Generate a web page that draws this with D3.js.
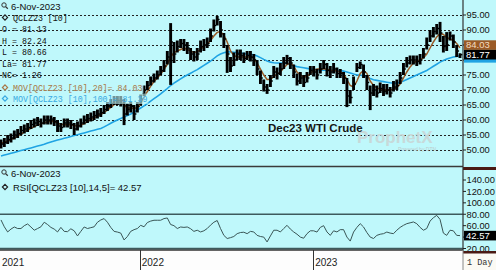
<!DOCTYPE html>
<html><head><meta charset="utf-8">
<script src="https://cdn.jsdelivr.net/npm/d3@7"></script>
<style>body{margin:0;background:#fff}svg{display:block}</style>
</head><body><svg id="c" width="496" height="270"></svg>
<script>
// ---------- DATA (weekly) ----------
const startDate = "2021-03-15";
const endDate = "2023-11-06";
const closes = [
52,52.5,53.5,54,55,55.5,56.5,57,57.5,58.5,
59,59.5,59,60,60,60.3,59.5,58,57.5,59,
59,58.5,57,58,59,60,60.5,61,61.5,62,
62.5,63.5,64.5,65.5,66.5,66.5,66.5,62,63.5,64.5,
62,64.5,67,70,71.5,73,74,75,76.5,78,
81,86,82,84.5,85.5,85,84,82,81,82,
84.5,85,85.5,88,91.5,93.5,90,87,82,78,
80,82,81.5,80.5,81.5,81,80,77,74,71,
70,73,76,75.5,77,79,80.5,79,76,73,
74,72.5,74,76.5,76,75,77,78.5,76.5,76,
77,75.5,75.5,74,68,67.5,72,77.5,78.5,76,
72.5,69,70,69,70.5,69.5,70,69,71,71.5,
74,77,79,80,80,79.5,80,82,85,88,
89.5,90.5,89,84.5,85,88,86,83,81.77];
const highs = [
53.5,54,55,55.5,56.5,57,58,58.5,59,60,
60.5,61,60.5,61.5,61.5,61.5,61,60,59,60.5,
60.5,60,59,59.5,60.5,61.5,62,62.5,63,63.5,
64,65,66,67,68,68,68,67,65.5,66,
65,66,68.5,71.5,73,74.5,75.5,76.5,78,80,
83,92.3,86,86.5,87,87,86,84,83,84,
86.5,87,87.5,90.5,93.5,94.7,93,89,85,81,
82.5,83.5,83.5,82.5,83,83,82,80,76.5,73.5,
72,75,78,77.5,79,81,81.7,81,78.5,75.5,
76,75,76,78,78,77,79,80,79,78,
79,77.5,77,76,74,70,74.5,79,79.5,78.5,
75,71.5,72,71.5,72.5,72,72,71,73,73.5,
76,79,81,81.5,81.5,81.5,82,84,87.5,90,
91,92,92.7,88,89.3,89.5,88.5,85,82.24];
const lows = [
50.5,51,52,52.5,53.5,54,55,55.5,56,57,
57.5,58,57.5,58.5,58.5,58.5,58,56,56,57.5,
57.5,57,55,56.5,57.5,58.5,59,59.5,60,60.5,
61,62,63,64,65,65,64.5,58.3,61.5,62.5,
60,62.5,65,68,70,71.5,72.5,73.5,75,76,
78.5,71.7,79,82.5,84,83,82,80,79.5,80,
82.5,83,84,86,89.5,91.5,87.5,84,75.7,76,
78,80,80,79,80,79.5,78,75,72,69.5,
68.7,71,74,73.5,75,77,78.5,77,74,71.5,
72,71,72.5,75,74.5,73.5,75.5,77,74.5,74,
75.5,74,74,72,64.3,65.5,70,76,77,74,
70,63.3,68,67.5,69,68,68.5,67.5,69.5,70,
72,75,77.5,78.5,78.5,78,78.5,80.5,83.5,86,
87.5,88.5,86,82.5,83,86.5,84,81,80.66];
const ma20 = [
52.3,52.6,53,53.5,54,54.6,55.3,56,56.6,57.2,
57.8,58.3,58.7,59,59.4,59.6,59.5,59,58.6,58.4,
58.4,58.4,58.2,58,58.3,58.8,59.5,60.1,60.7,61.3,
61.8,62.5,63.3,64.2,65.1,65.8,66,65,64,64,
63.8,64.2,65.5,67.5,69.5,71.3,72.8,74,75.3,76.8,
78.5,81,82.5,83,83.5,84,83.5,83,82.5,82.7,
83.5,84.5,85.3,86.5,88,89.2,89.5,88.3,86,83,
81.5,81,81,81,81,81,80.7,79,77,75,
73.5,73.5,74.5,75.3,76,77.3,78.5,79,78,76,
75,74.3,74.5,75.5,76.5,77,77,77,77,76.5,
76.5,76.3,76,75.5,73.5,71.5,71,73,75.5,76.5,
75.5,73,71.5,70.7,70.3,70.2,70,70,70.2,70.8,
72,74,76,77.7,79,79.7,80,80.7,82,84,
86,87.7,88.8,88.5,87.5,87,86.5,85.5,84.03];
const ma100 = [
48,48.3,48.6,48.9,49.2,49.5,49.8,50.1,50.4,50.7,
51,51.3,51.6,51.9,52.3,52.7,53,53.3,53.6,53.9,
54.2,54.5,54.8,55.1,55.4,55.7,56,56.3,56.6,56.9,
57.2,57.7,58.3,58.9,59.5,60,60.5,61,61.5,62,
62.6,63.3,64,64.7,65.5,66.3,67.1,67.9,68.7,69.6,
70.5,71.5,72.3,73,73.7,74.4,75,75.6,76.2,76.8,
77.5,78.2,78.9,79.6,80.5,81.4,82,82.4,82.7,82.7,
82.6,82.5,82.3,82.2,82,81.9,81.7,81.3,80.8,80.2,
79.7,79.3,79.1,79,79,79,78.9,78.5,78.1,77.8,
77.6,77.4,77.2,77,76.9,76.8,76.7,76.6,76.6,76.6,
76.5,76.5,76.5,76.3,76,75.7,75.3,75,75,74.7,
74.3,73.8,73.4,73.2,73,72.8,72.6,72.4,72.3,72.3,
72.6,73,73.5,74,74.5,75,75.5,76,76.5,77.2,
77.9,78.6,79.3,79.8,80.3,80.7,81,81.2,81.39];
const rsi = [
70,58,49,54,57.7,55,55,60,63,57.7,
52,55,58,66,62,57,54,49,57,50,
49.5,54.5,51,42,50,57.7,55,56.5,58,66,
70,72.4,66,57,50,48.8,47,35,41,50,
53,55,60.6,58,65.5,68,69.5,69.5,69.5,72.4,
73.5,62,60,55,57.7,57,57.7,54.7,50,52,
49,51,55,61,66,69,55,43,37.5,39,
41,46,48,48.5,46,50,49,43,41,40,
31.5,42,52,52,49,55,60.6,54,49,45,
40,38,46,51,51,48.8,57,60,49,43,
51,49,53,53,40,33,48.8,57,63.5,57.7,
48,40,37.5,43,45,46,48.8,47,46,52,
57,60.6,63.5,65,66.5,63.5,57,52,55,68,
74,78,71,47,43,52,51,43,42.57];
const priceTicks = [50,55,60,65,70,75,80,85,90,95];
const rsiTicks = [20,40,60,80,100,120,140];
const rsiLevels = [20,80];
const yearLabels = ["2021","2022","2023"];
const yearStarts = ["2021-01-01","2022-01-01","2023-01-01"];
const legendMain = ["QCLZ23 [10]","O = 81.13","H = 82.24","L = 80.66","La= 81.77","NC= 1.26"];
const legendMA = ["MOV[QCLZ23 [10],20]= 84.03","MOV[QCLZ23 [10],100]= 81.39"];
const lastValues = {ma20:84.03, ma100:81.39, last:81.77, rsi:42.57};
const dateLabel = "6-Nov-2023";
const chartTitle = "Dec23 WTI Crude";

// ---------- LAYOUT ----------
const BG = "#bff8fb";
const svg = d3.select("#c");
const parse = d3.timeParse("%Y-%m-%d");
const dates = closes.map((_, i) => d3.timeDay.offset(parse(startDate), 7 * i));
const x = d3.scaleTime().domain([parse(startDate), parse(endDate)]).range([1, 460]);
const y = d3.scaleLinear().domain([50, 95]).range([150, 15]);
const yr = d3.scaleLinear().domain([20, 140]).range([248.5, 180]);
const AX = 463;
const mono = "'Liberation Mono', 'Courier New', monospace";
const sans = "Arial, 'Liberation Sans', sans-serif";

svg.append("rect").attr("width", 496).attr("height", 270).attr("fill", BG);

// main gridlines
svg.append("g").selectAll("line").data(priceTicks).join("line")
  .attr("x1", 0).attr("x2", AX).attr("y1", d => Math.round(y(d)) + 0.5).attr("y2", d => Math.round(y(d)) + 0.5)
  .attr("stroke", "#222").attr("stroke-width", 1).attr("stroke-dasharray", "2,2");

// watermark + title
svg.append("text").attr("x", 357).attr("y", 143).attr("font-family", sans)
  .attr("font-size", 17).attr("font-weight", "bold").attr("fill", "#c9d6d6").attr("opacity", 0.9).text("ProphetX");
svg.append("text").attr("x", 398).attr("y", 151).attr("font-family", sans)
  .attr("font-size", 5).attr("fill", "#bccccc").text("Powered by DTN");
svg.append("text").attr("x", 268).attr("y", 132).attr("font-family", sans)
  .attr("font-size", 11.5).attr("font-weight", "bold").attr("fill", "#151515").text(chartTitle);

// moving averages
const line = (arr, ys) => d3.line().x((d, i) => x(dates[i])).y(d => ys(d))(arr);
svg.append("path").attr("d", line(ma100, y)).attr("fill", "none").attr("stroke", "#1fa3e3").attr("stroke-width", 1.6);
svg.append("path").attr("d", line(ma20, y)).attr("fill", "none").attr("stroke", "#9a5a26").attr("stroke-width", 1.5);

// price bars
const bars = svg.append("g");
bars.selectAll("line.hl").data(closes).join("line").attr("class", "hl")
  .attr("x1", (d, i) => x(dates[i])).attr("x2", (d, i) => x(dates[i]))
  .attr("y1", (d, i) => y(highs[i])).attr("y2", (d, i) => y(lows[i]))
  .attr("stroke", "#000").attr("stroke-width", 2.9);
bars.selectAll("line.c").data(closes).join("line").attr("class", "c")
  .attr("x1", (d, i) => x(dates[i])).attr("x2", (d, i) => x(dates[i]) + 2.4)
  .attr("y1", d => y(d)).attr("y2", d => y(d))
  .attr("stroke", "#000").attr("stroke-width", 1.4);

// legend (main)
function magnifier(g, cx, cy) {
  g.append("circle").attr("cx", cx).attr("cy", cy).attr("r", 2.2).attr("fill", "none").attr("stroke", "#333").attr("stroke-width", 1);
  g.append("line").attr("x1", cx + 1.6).attr("y1", cy + 1.6).attr("x2", cx + 3.8).attr("y2", cy + 3.8).attr("stroke", "#333").attr("stroke-width", 1.3);
}
function diamond(g, cx, cy, col) {
  g.append("path").attr("d", `M${cx},${cy - 2.6}L${cx + 2.6},${cy}L${cx},${cy + 2.6}L${cx - 2.6},${cy}Z`)
    .attr("fill", "none").attr("stroke", col).attr("stroke-width", 1.2);
}
const leg = svg.append("g");
magnifier(leg, 4, 5);
leg.append("text").attr("x", 11).attr("y", 10).attr("font-family", sans).attr("font-size", 9.5).attr("fill", "#111").text(dateLabel);
const lineY = [20.5, 32, 43.5, 55, 66.5, 78];
legendMain.forEach((t, k) => {
  if (k === 0) diamond(leg, 5, lineY[k] - 3, "#222");
  leg.append("text").attr("x", k === 0 ? 13 : 2).attr("y", lineY[k]).attr("font-family", mono)
    .attr("font-size", 8.3).attr("fill", "#111").text(t);
});
const maCols = ["#a87848", "#3aaae2"];
const maY = [90.5, 101.5];
legendMA.forEach((t, k) => {
  const tx = leg.append("text").attr("x", 13).attr("y", maY[k]).attr("font-family", mono)
    .attr("font-size", 8.3).attr("fill", maCols[k]).text(t);
  const w = tx.node().getComputedTextLength();
  leg.insert("rect", "text").attr("x", 1).attr("y", maY[k] - 8).attr("width", w + 13).attr("height", 10.5)
    .attr("fill", BG).attr("opacity", 0.6);
  diamond(leg, 5, maY[k] - 3, maCols[k]);
});

// ---------- RSI panel ----------
svg.append("g").selectAll("line").data(rsiLevels).join("line")
  .attr("x1", 0).attr("x2", AX).attr("y1", d => yr(d)).attr("y2", d => yr(d))
  .attr("stroke", "#3d5a5c").attr("stroke-width", 1.3);
svg.append("path").attr("d", line(rsi, yr)).attr("fill", "none").attr("stroke", "#3a5656").attr("stroke-width", 1);
const rl = svg.append("g");
magnifier(rl, 4, 172);
rl.append("text").attr("x", 11).attr("y", 177).attr("font-family", sans).attr("font-size", 9.5).attr("fill", "#111").text(dateLabel);
diamond(rl, 5, 187, "#222");
rl.append("text").attr("x", 13).attr("y", 190.5).attr("font-family", sans).attr("font-size", 9.5).attr("fill", "#111")
  .text("RSI[QCLZ23 [10],14,5]= " + lastValues.rsi.toFixed(2));

// panel separators and axis line
svg.append("line").attr("x1", 0).attr("x2", AX).attr("y1", 166.5).attr("y2", 166.5).attr("stroke", "#3a3a3a").attr("stroke-width", 1.5);
svg.append("rect").attr("x", AX).attr("y", 167).attr("width", 33).attr("height", 3).attr("fill", "#4a1a14");
svg.append("line").attr("x1", AX).attr("x2", AX).attr("y1", 0).attr("y2", 251).attr("stroke", "#333").attr("stroke-width", 1.2);

// value boxes on the right axis (de-collided like the original)
const BH = 9.6;
const lastC = y(lastValues.last);
const ma20C = Math.min(y(lastValues.ma20), lastC - BH);
const ma100C = y(lastValues.ma100) + 2;
const rsiC = yr(lastValues.rsi);
const boxes = [
  {c: ma100C, fill: "#1fa3e3", txt: null},
  {c: ma20C, fill: "#9a5a26", txt: lastValues.ma20, col: "#f3dcc0"},
  {c: lastC, fill: "#000", txt: lastValues.last, col: "#fff"},
  {c: rsiC, fill: "#000", txt: lastValues.rsi, col: "#fff"}
];
const ax = svg.append("g");
const blocked = c => boxes.some(b => b.txt !== null && Math.abs(b.c - c) < 9.5);
priceTicks.forEach(v => {
  ax.append("line").attr("x1", AX).attr("x2", AX + 3).attr("y1", y(v)).attr("y2", y(v)).attr("stroke", "#222");
  if (!blocked(y(v))) ax.append("text").attr("x", AX + 3.5).attr("y", y(v) + 3.4).attr("font-family", sans).attr("font-size", 9.3).attr("fill", "#111").text(v.toFixed(2));
});
rsiTicks.forEach(v => {
  ax.append("line").attr("x1", AX).attr("x2", AX + 3).attr("y1", yr(v)).attr("y2", yr(v)).attr("stroke", "#222");
  if (!blocked(yr(v))) ax.append("text").attr("x", AX + 3.5).attr("y", yr(v) + 3.4).attr("font-family", sans).attr("font-size", 9.3).attr("fill", "#111").text(v.toFixed(2));
});
boxes.forEach(b => {
  ax.append("rect").attr("x", AX + 1).attr("y", b.c - BH / 2).attr("width", 33).attr("height", BH).attr("fill", b.fill);
  if (b.txt !== null) ax.append("text").attr("x", AX + 3).attr("y", b.c + 3.4).attr("font-family", sans).attr("font-size", 9.5)
    .attr("fill", b.col).text(b.txt.toFixed(2));
});

// ---------- time axis ----------
svg.append("rect").attr("x", 0).attr("y", 250).attr("width", AX).attr("height", 20).attr("fill", "#fdfdfd");
svg.append("rect").attr("x", AX).attr("y", 251).attr("width", 33).attr("height", 19).attr("fill", "#fbfaf4");
svg.append("line").attr("x1", 0).attr("x2", AX).attr("y1", 250).attr("y2", 250).attr("stroke", "#333").attr("stroke-width", 1.5);
svg.append("rect").attr("x", AX).attr("y", 251).attr("width", 33).attr("height", 2.5).attr("fill", "#4a1a14");
svg.append("line").attr("x1", AX).attr("x2", AX).attr("y1", 250).attr("y2", 270).attr("stroke", "#888").attr("stroke-width", 1);
yearLabels.forEach((t, k) => {
  const px = x(parse(yearStarts[k]));
  if (px > 0) svg.append("line").attr("x1", Math.round(px) + 0.5).attr("x2", Math.round(px) + 0.5).attr("y1", 250).attr("y2", 270)
    .attr("stroke", "#333").attr("stroke-width", 1);
  svg.append("text").attr("x", Math.max(px, 0) + 2).attr("y", 266).attr("font-family", sans).attr("font-size", 10)
    .attr("fill", "#222").text(t);
});
svg.append("text").attr("x", 467).attr("y", 265).attr("font-family", mono).attr("font-size", 8.5).attr("fill", "#333").text("1 Day");
</script></body></html>
